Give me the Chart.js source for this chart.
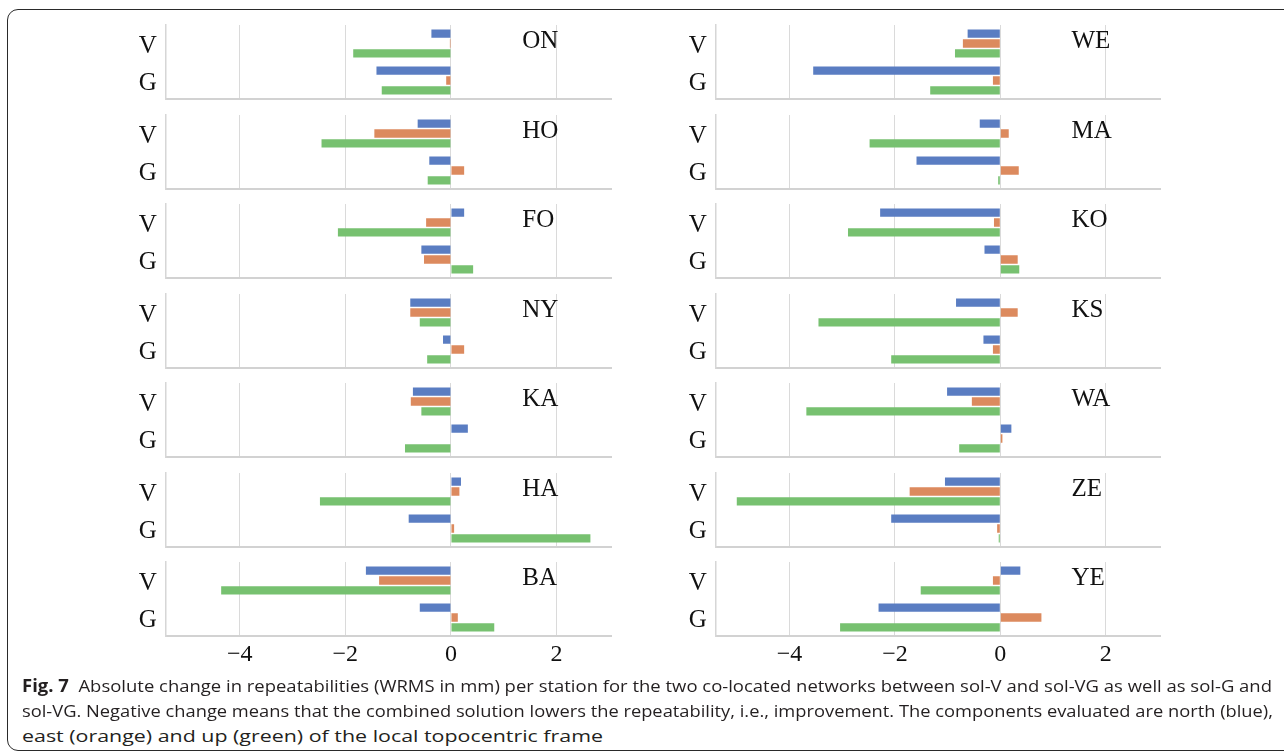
<!DOCTYPE html>
<html>
<head>
<meta charset="utf-8">
<script src="https://cdn.jsdelivr.net/npm/chart.js@4.4.1/dist/chart.umd.min.js"></script>
<style>
  html, body { margin:0; padding:0; background:#fff; width:1284px; height:754px; overflow:hidden; position:relative; }
  #frame { position:absolute; left:7px; top:9px; width:1400px; height:742px; border:1.3px solid #2a2a2a; border-radius:11px; box-sizing:border-box; }
  canvas { position:absolute; }
  .ln { position:absolute; left:22px; white-space:nowrap; display:inline-block; font-family:"Open Sans","Noto Sans",sans-serif; font-size:17px; line-height:20px; color:#231f20; transform-origin:0 50%; }
  .ln b { font-weight:700; }
</style>
</head>
<body>
<div id="frame"></div>
<div id="charts"></div>
<div class="ln" id="l1" style="top:676px"><b>Fig. 7</b>&nbsp; Absolute change in repeatabilities (WRMS in mm) per station for the two co-located networks between sol-V and sol-VG as well as sol-G and</div>
<div class="ln" id="l2" style="top:701px">sol-VG. Negative change means that the combined solution lowers the repeatability, i.e., improvement. The components evaluated are north (blue),</div>
<div class="ln" id="l3" style="top:726px">east (orange) and up (green) of the local topocentric frame</div>
<script>
// ---- data ----
const stations = ['ON','HO','FO','NY','KA','HA','BA','WE','MA','KO','KS','WA','ZE','YE'];
const categories = ['V','G'];
const northV = [-0.37,-0.63, 0.25,-0.77,-0.72, 0.19,-1.61, -0.62,-0.39,-2.28,-0.84,-1.01,-1.05, 0.38];
const northG = [-1.41,-0.41,-0.56,-0.15, 0.32,-0.80,-0.59, -3.55,-1.59,-0.30,-0.32, 0.21,-2.07,-2.31];
const eastV  = [-0.02,-1.45,-0.47,-0.77,-0.76, 0.16,-1.36, -0.71, 0.16,-0.12, 0.33,-0.54,-1.72,-0.14];
const eastG  = [-0.09, 0.25,-0.51, 0.25, 0.00, 0.06, 0.13, -0.14, 0.35, 0.33,-0.14, 0.04,-0.06, 0.78];
const upV    = [-1.85,-2.45,-2.14,-0.59,-0.56,-2.48,-4.35, -0.86,-2.48,-2.89,-3.45,-3.68,-5.00,-1.51];
const upG    = [-1.31,-0.44, 0.42,-0.45,-0.87, 2.64, 0.82, -1.33,-0.04, 0.36,-2.07,-0.78,-0.03,-3.04];
const tickValues = [-4,-2,0,2];
const tickLabels = ['\u22124','\u22122','0','2'];
const seriesNames = ['north','east','up'];
const seriesColors = ['#5a7dc2','#dc8a5e','#77c170'];

// ---- layout ----
const SERIF = '"Liberation Serif","DejaVu Serif",serif';
const plotH = 74, rowStep = 89.5, firstTop = 25;
const colLeft = [120, 670], canvasW = 500, padRight = [9, 10], axisW = 45.7;

const stationLabel = {
  id:'stationLabel',
  afterDatasetsDraw(chart, args, opts) {
    const {ctx, chartArea, scales} = chart;
    ctx.save();
    ctx.font = '25px ' + SERIF;
    ctx.fillStyle = '#111';
    ctx.textBaseline = 'alphabetic';
    ctx.fillText(opts.text, scales.x.getPixelForValue(1.35), chartArea.top + 23);
    ctx.restore();
  }
};

function zeroPad(s) { s.paddingTop = 0; s.paddingBottom = 0; s.paddingLeft = 0; s.paddingRight = 0; }

const holder = document.getElementById('charts');
stations.forEach((st, i) => {
  const col = i < 7 ? 0 : 1, row = i % 7, last = row === 6;
  const plotTop = firstTop + row * rowStep;
  const padTop = 8;
  const xAxisH = last ? 40 : 0;
  const padBottom = 2;
  const h = padTop + plotH + xAxisH + padBottom;
  const cv = document.createElement('canvas');
  cv.width = canvasW; cv.height = h;
  cv.style.left = colLeft[col] + 'px';
  cv.style.top = (plotTop - padTop) + 'px';
  cv.style.width = canvasW + 'px'; cv.style.height = h + 'px';
  holder.appendChild(cv);
  const vals = [[northV[i], northG[i]], [eastV[i], eastG[i]], [upV[i], upG[i]]];
  new Chart(cv, {
    type:'bar',
    data:{
      labels:categories,
      datasets: vals.map((d, k) => ({
        label: seriesNames[k], data: d, backgroundColor: seriesColors[k],
        borderWidth:0, categoryPercentage:0.8, barPercentage:0.85
      }))
    },
    options:{
      indexAxis:'y', responsive:false, animation:false, devicePixelRatio:1,
      layout:{ padding:{ top:padTop, right:padRight[col], bottom:padBottom, left:0 } },
      plugins:{ legend:{display:false}, tooltip:{enabled:false}, stationLabel:{ text: st } },
      scales:{
        x:{
          type:'linear', min:-5.4, max:3.03,
          afterBuildTicks: s => { s.ticks = tickValues.map(v => ({value:v})); },
          afterFit: s => { s.height = xAxisH; zeroPad(s); },
          grid:{ color:'#dadada', lineWidth:1, drawTicks:false },
          border:{ display:true, color:'#d2d2d2', width:2 },
          ticks:{ display:last, padding:4, color:'#111', font:{ family:SERIF, size:24 }, autoSkip:false, maxRotation:0,
                  callback: v => tickLabels[tickValues.indexOf(v)] }
        },
        y:{
          type:'category',
          afterFit: s => { s.width = axisW; zeroPad(s); },
          grid:{ display:false, drawTicks:false },
          border:{ display:true, color:'#d6d6d6', width:1.5 },
          ticks:{ padding:9, color:'#111', font:{ family:SERIF, size:25, lineHeight:'6px' }, autoSkip:false,
                  callback: v => ['', categories[v]] }
        }
      }
    },
    plugins:[stationLabel]
  });
});

// fit caption lines to the reference widths
const targets = { l1:1250, l2:1251, l3:581 };
Object.keys(targets).forEach(id => {
  const el = document.getElementById(id);
  const w = el.getBoundingClientRect().width;
  el.style.transform = 'scaleX(' + (targets[id] / w) + ')';
});
</script>
</body>
</html>
